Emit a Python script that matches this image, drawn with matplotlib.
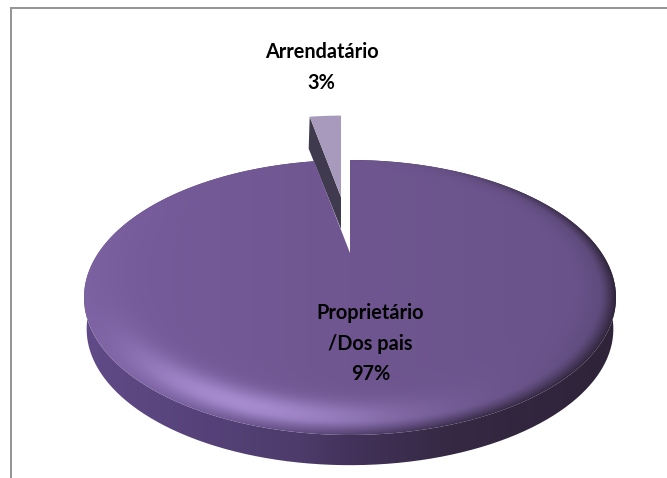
import numpy as np
import matplotlib
matplotlib.use("Agg")
import matplotlib.pyplot as plt
from matplotlib.patches import Polygon
from matplotlib.path import Path
from matplotlib.colors import to_rgb

categories = ["Proprietário\n/Dos pais", "Arrendatário"]
shares = [97, 3]

# Tilted-disc projection, in pixels of the 667x478 canvas
APEX_X, APEX_Y = 350.0, 253.0
PERSP = 0.3236
HALF_W, HALF_H = 251.7, 123.1
DEPTH = 32.0


def project(theta, cx=APEX_X, cy=APEX_Y, scale=1.0, drop=0.0):
    """Map a clockwise angle from twelve o'clock onto the tilted disc."""
    u, v = np.sin(theta), np.cos(theta)
    d = 1 + PERSP * v
    return np.column_stack([cx + scale * HALF_W * u / d,
                            cy + drop - scale * HALF_H * v / d])


def ramp(x, stops, colors):
    rgb = np.array([to_rgb(c) for c in colors])
    return np.stack([np.interp(x, stops, rgb[:, i]) for i in range(3)], axis=-1)


fig = plt.figure(figsize=(6.67, 4.78), dpi=100)
ax = fig.add_axes([0, 0, 1, 1])
ax.set_xlim(0, 667)
ax.set_ylim(478, 0)
ax.axis("off")

# Chart frame: the top and left edges stay inside the canvas
ax.plot([10.8, 10.8, 667], [478, 7.6, 7.6], color="#969696", lw=1.45,
        solid_joinstyle="miter")

small_angle = 2 * np.pi * shares[1] / sum(shares)

# Pulled-out slice: cut wall first, then its top face
SMALL_X, SMALL_Y, SMALL_SCALE = 341.0, 197.0, 0.875
thetas = np.linspace(-small_angle, 0, 30)
rim = project(thetas, SMALL_X, SMALL_Y, SMALL_SCALE)
corner = rim[0]
wall = np.array([corner, corner + [-1, DEPTH],
                 [SMALL_X, SMALL_Y + DEPTH], [SMALL_X, SMALL_Y]])
ax.add_patch(Polygon(wall, closed=True, fc="#3f3a4d", ec="none", zorder=2))
face = np.vstack([[SMALL_X, SMALL_Y], rim])
ax.add_patch(Polygon(face, closed=True, fc="#a89abd", ec="none", zorder=3))

# Pixel grid used for the shaded surfaces of the large slice
xx, yy = np.meshgrid(np.arange(70, 630, 1.0), np.arange(150, 475, 1.0))
extent = (70, 630, 475, 150)

# Outer wall of the large slice
thetas = np.linspace(0, 2 * np.pi - small_angle, 400)
top_rim = project(thetas)
bottom_rim = project(thetas, scale=0.99, drop=DEPTH)
wall_outline = np.vstack([top_rim, bottom_rim[::-1]])
side = ramp(xx, [85, 150, 300, 350, 450, 617],
            ["#604b88", "#5b4680", "#4d3b6b", "#43325a", "#352944", "#2e2338"])
im = ax.imshow(side, extent=extent, aspect="auto", zorder=4, interpolation="bilinear")
im.set_clip_path(Path(wall_outline), ax.transData)

# Top face: nearly flat tone with a highlight low on the left and a dark lip
face_outline = np.vstack([[APEX_X, APEX_Y], top_rim])
px = (xx - APEX_X) / HALF_W
py = (yy - APEX_Y) / HALF_H
# Invert the projection to recover disc coordinates
v = -py / (1 + PERSP * py)
u = px * (1 + PERSP * v)
r = np.maximum(np.hypot(u, v), 1e-6)
top = ramp(xx, [85, 350, 617], ["#775c9c", "#6f5690", "#685289"])

# Highlight band
facing = np.clip((u * -0.34 + v * -0.94) / r, 0, 1)
band = np.exp(-((r - 0.925) / 0.06) ** 2) * facing ** 9 * 0.8
# Soft glow along the lower-left
glow = np.clip((r - 0.7) / 0.3, 0, 1) ** 2 * np.clip((u * -0.6 + v * -0.8) / r, 0, 1) * 0.14
lit = np.clip(band + glow, 0, 1)[..., None]
top = top * (1 - lit) + np.array(to_rgb("#ae94d8")) * lit

# Darkening towards the right-hand rim
right_shade = (np.clip((r - 0.82) / 0.18, 0, 1) ** 2 * np.clip(u / r, 0, 1) ** 1.5 * 0.5)[..., None]
top = top * (1 - right_shade) + np.array(to_rgb("#3f3350")) * right_shade

# Soft lip where the face meets the wall
lip = (np.clip((r - 0.945) / 0.055, 0, 1) ** 1.4
       * np.clip((u * 0.8 - v * 0.6) / r + 0.15, 0, 1))[..., None]
top = top * (1 - lip) + side * lip

im = ax.imshow(np.clip(top, 0, 1), extent=extent, aspect="auto", zorder=5,
               interpolation="bilinear")
im.set_clip_path(Path(face_outline), ax.transData)

ax.set_xlim(0, 667)
ax.set_ylim(478, 0)

# Data labels
label_font = dict(family="Lato", fontweight="bold", fontsize=14.3, color="black",
                  ha="center", va="center", linespacing=1.68, zorder=8)
ax.text(370.5, 343.5, f"{categories[0]}\n{shares[0]}%", **label_font)
ax.text(321.5, 67.5, f"{categories[1]}\n{shares[1]}%", **label_font)

fig.savefig("out.png", dpi=100, facecolor="white")
